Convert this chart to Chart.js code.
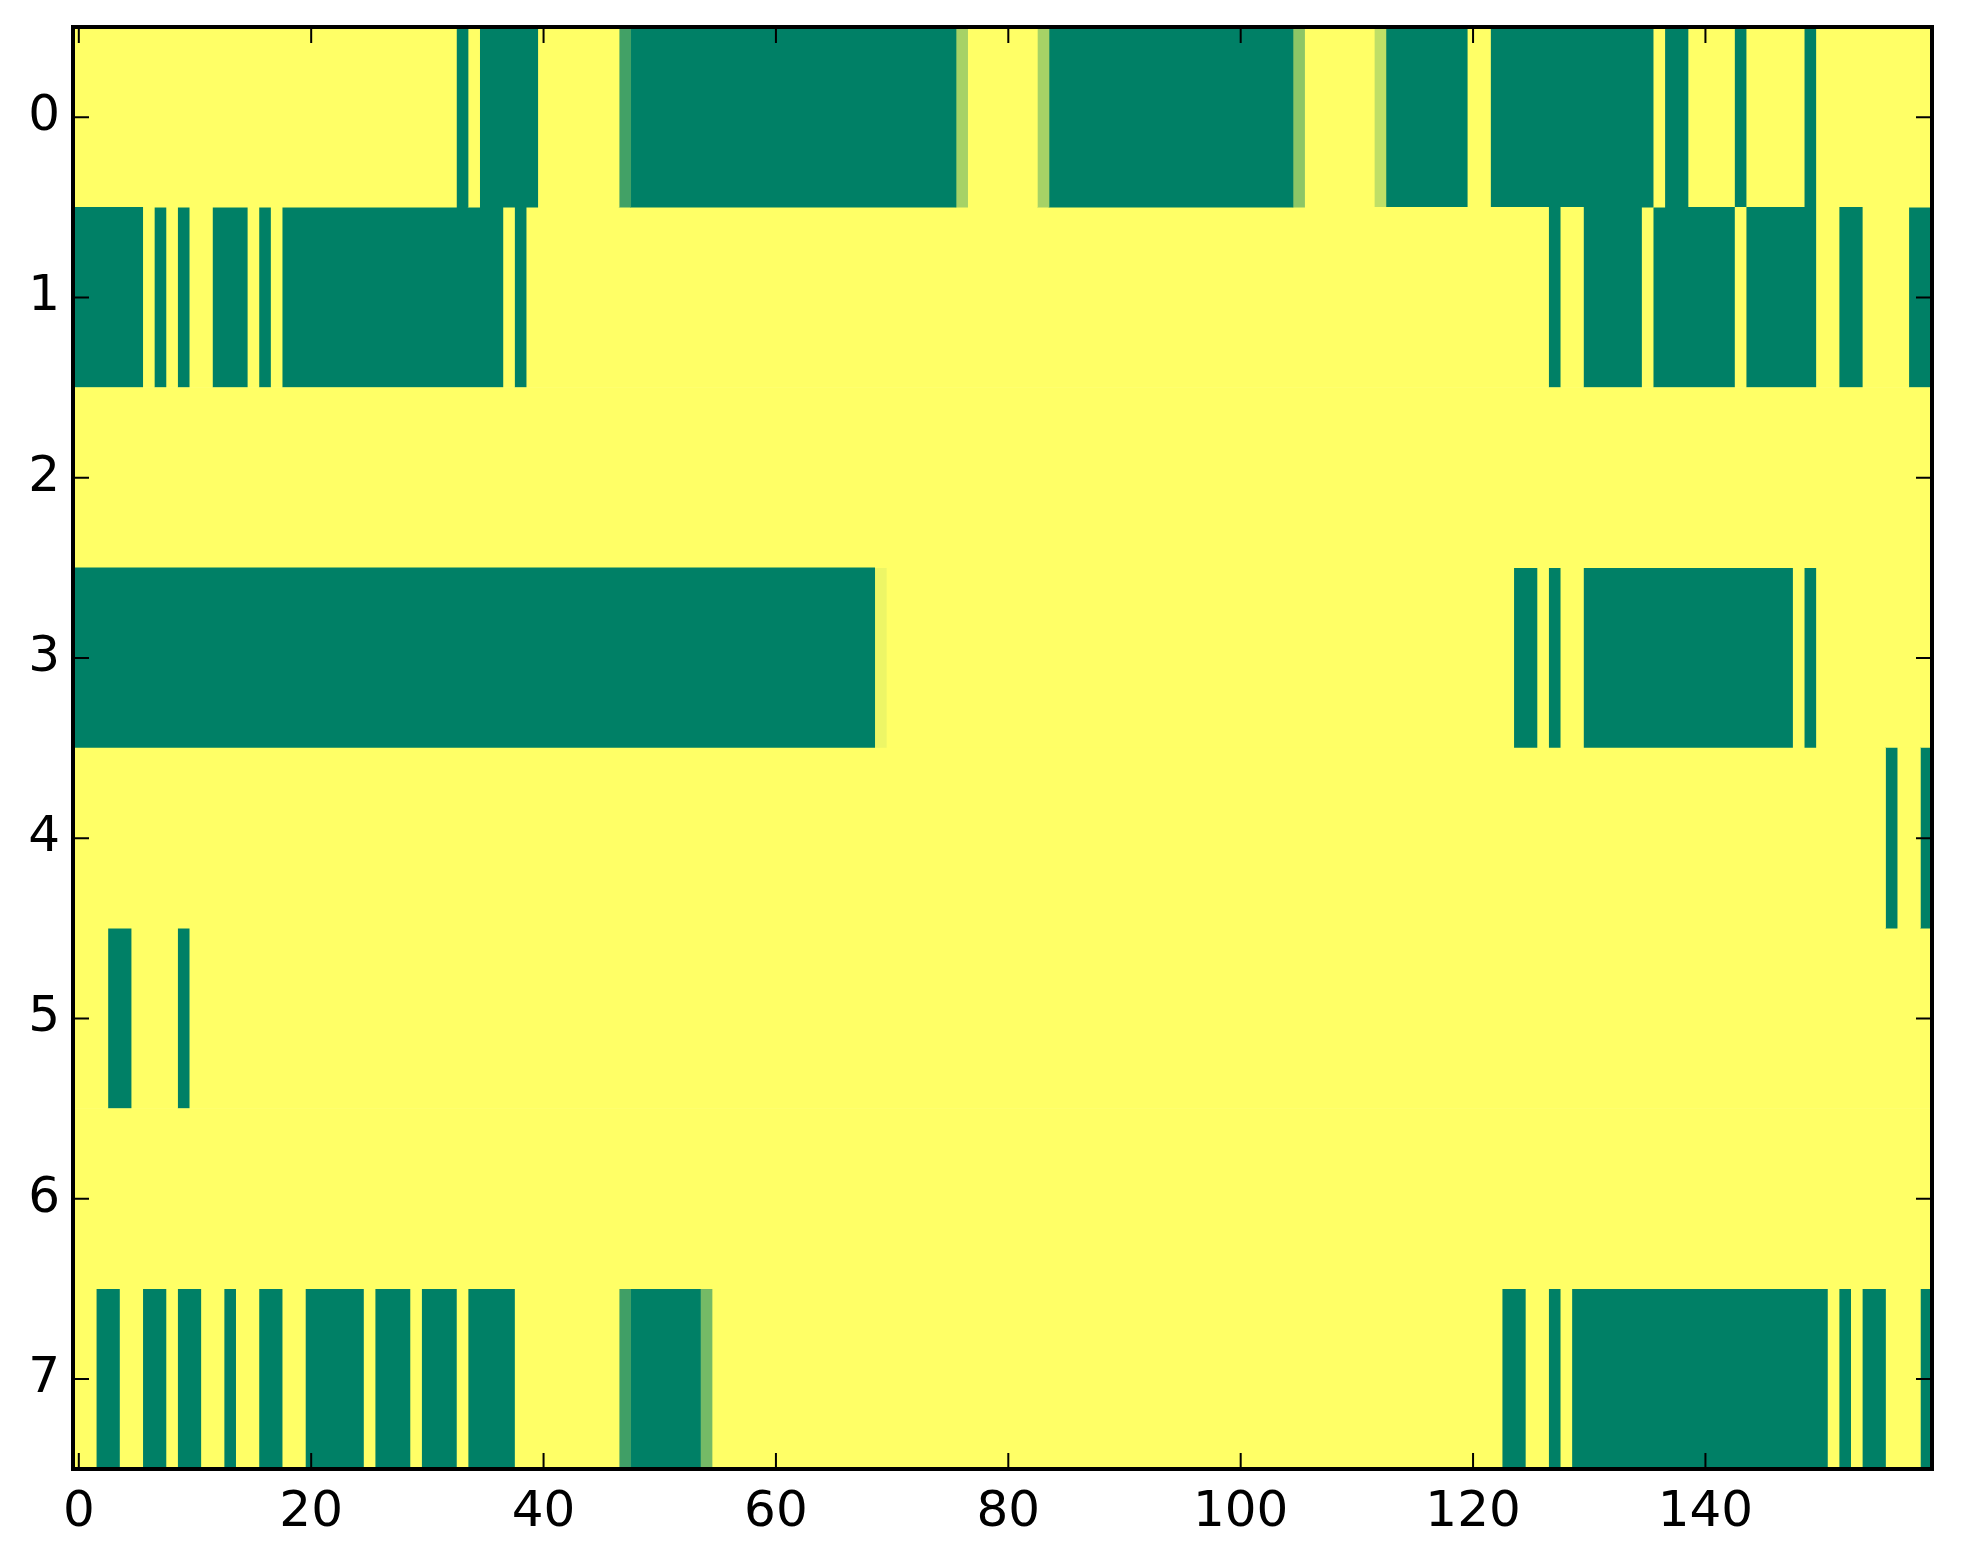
<!DOCTYPE html>
<html>
<head>
<meta charset="utf-8">
<title>Heatmap</title>
<script src="https://cdn.jsdelivr.net/npm/chart.js@4.4.1/dist/chart.umd.min.js"></script>
<style>
  html, body { margin: 0; padding: 0; background: #fff; }
  canvas { display: block; }
</style>
</head>
<body>
<canvas id="heatmap" width="1963" height="1564"></canvas>
<script>
// Cell values per row (1 = yellow, 0 = green, fractions in between)
const row0 = [
  1,1,1,1,1,1,1,1,1,1,1,1,1,1,1,1,1,1,1,1,
  1,1,1,1,1,1,1,1,1,1,1,1,1,0,1,0,0,0,0,0,
  1,1,1,1,1,1,1,0.26,0,0,0,0,0,0,0,0,0,0,0,0,
  0,0,0,0,0,0,0,0,0,0,0,0,0,0,0,0,0.65,1,1,1,
  1,1,1,0.65,0,0,0,0,0,0,0,0,0,0,0,0,0,0,0,0,
  0,0,0,0,0,0.55,1,1,1,1,1,1,0.75,0,0,0,0,0,0,0,
  1,1,0,0,0,0,0,0,0,0,0,0,0,0,0,0,1,0,0,1,
  1,1,1,0,1,1,1,1,1,0,1,1,1,1,1,1,1,1,1,1
];
const row1 = [
  0,0,0,0,0,0,1,0,1,0,1,1,0,0,0,1,0,1,0,0,
  0,0,0,0,0,0,0,0,0,0,0,0,0,0,0,0,0,1,0,1,
  1,1,1,1,1,1,1,1,1,1,1,1,1,1,1,1,1,1,1,1,
  1,1,1,1,1,1,1,1,1,1,1,1,1,1,1,1,1,1,1,1,
  1,1,1,1,1,1,1,1,1,1,1,1,1,1,1,1,1,1,1,1,
  1,1,1,1,1,1,1,1,1,1,1,1,1,1,1,1,1,1,1,1,
  1,1,1,1,1,1,1,0,1,1,0,0,0,0,0,1,0,0,0,0,
  0,0,0,1,0,0,0,0,0,0,1,1,0,0,1,1,1,1,0,0
];
const row2 = [
  1,1,1,1,1,1,1,1,1,1,1,1,1,1,1,1,1,1,1,1,
  1,1,1,1,1,1,1,1,1,1,1,1,1,1,1,1,1,1,1,1,
  1,1,1,1,1,1,1,1,1,1,1,1,1,1,1,1,1,1,1,1,
  1,1,1,1,1,1,1,1,1,1,1,1,1,1,1,1,1,1,1,1,
  1,1,1,1,1,1,1,1,1,1,1,1,1,1,1,1,1,1,1,1,
  1,1,1,1,1,1,1,1,1,1,1,1,1,1,1,1,1,1,1,1,
  1,1,1,1,1,1,1,1,1,1,1,1,1,1,1,1,1,1,1,1,
  1,1,1,1,1,1,1,1,1,1,1,1,1,1,1,1,1,1,1,1
];
const row3 = [
  0,0,0,0,0,0,0,0,0,0,0,0,0,0,0,0,0,0,0,0,
  0,0,0,0,0,0,0,0,0,0,0,0,0,0,0,0,0,0,0,0,
  0,0,0,0,0,0,0,0,0,0,0,0,0,0,0,0,0,0,0,0,
  0,0,0,0,0,0,0,0,0,0.93,1,1,1,1,1,1,1,1,1,1,
  1,1,1,1,1,1,1,1,1,1,1,1,1,1,1,1,1,1,1,1,
  1,1,1,1,1,1,1,1,1,1,1,1,1,1,1,1,1,1,1,1,
  1,1,1,1,0,0,1,0,1,1,0,0,0,0,0,0,0,0,0,0,
  0,0,0,0,0,0,0,0,1,0,1,1,1,1,1,1,1,1,1,1
];
const row4 = [
  1,1,1,1,1,1,1,1,1,1,1,1,1,1,1,1,1,1,1,1,
  1,1,1,1,1,1,1,1,1,1,1,1,1,1,1,1,1,1,1,1,
  1,1,1,1,1,1,1,1,1,1,1,1,1,1,1,1,1,1,1,1,
  1,1,1,1,1,1,1,1,1,1,1,1,1,1,1,1,1,1,1,1,
  1,1,1,1,1,1,1,1,1,1,1,1,1,1,1,1,1,1,1,1,
  1,1,1,1,1,1,1,1,1,1,1,1,1,1,1,1,1,1,1,1,
  1,1,1,1,1,1,1,1,1,1,1,1,1,1,1,1,1,1,1,1,
  1,1,1,1,1,1,1,1,1,1,1,1,1,1,1,1,0,1,1,0
];
const row5 = [
  1,1,1,0,0,1,1,1,1,0,1,1,1,1,1,1,1,1,1,1,
  1,1,1,1,1,1,1,1,1,1,1,1,1,1,1,1,1,1,1,1,
  1,1,1,1,1,1,1,1,1,1,1,1,1,1,1,1,1,1,1,1,
  1,1,1,1,1,1,1,1,1,1,1,1,1,1,1,1,1,1,1,1,
  1,1,1,1,1,1,1,1,1,1,1,1,1,1,1,1,1,1,1,1,
  1,1,1,1,1,1,1,1,1,1,1,1,1,1,1,1,1,1,1,1,
  1,1,1,1,1,1,1,1,1,1,1,1,1,1,1,1,1,1,1,1,
  1,1,1,1,1,1,1,1,1,1,1,1,1,1,1,1,1,1,1,1
];
const row6 = [
  1,1,1,1,1,1,1,1,1,1,1,1,1,1,1,1,1,1,1,1,
  1,1,1,1,1,1,1,1,1,1,1,1,1,1,1,1,1,1,1,1,
  1,1,1,1,1,1,1,1,1,1,1,1,1,1,1,1,1,1,1,1,
  1,1,1,1,1,1,1,1,1,1,1,1,1,1,1,1,1,1,1,1,
  1,1,1,1,1,1,1,1,1,1,1,1,1,1,1,1,1,1,1,1,
  1,1,1,1,1,1,1,1,1,1,1,1,1,1,1,1,1,1,1,1,
  1,1,1,1,1,1,1,1,1,1,1,1,1,1,1,1,1,1,1,1,
  1,1,1,1,1,1,1,1,1,1,1,1,1,1,1,1,1,1,1,1
];
const row7 = [
  1,1,0,0,1,1,0,0,1,0,0,1,1,0,1,1,0,0,1,1,
  0,0,0,0,0,1,0,0,0,1,0,0,0,1,0,0,0,0,1,1,
  1,1,1,1,1,1,1,0.25,0,0,0,0,0,0,0.46,1,1,1,1,1,
  1,1,1,1,1,1,1,1,1,1,1,1,1,1,1,1,1,1,1,1,
  1,1,1,1,1,1,1,1,1,1,1,1,1,1,1,1,1,1,1,1,
  1,1,1,1,1,1,1,1,1,1,1,1,1,1,1,1,1,1,1,1,
  1,1,1,0,0,1,1,0,1,0,0,0,0,0,0,0,0,0,0,0,
  0,0,0,0,0,0,0,0,0,0,0,1,0,1,0,0,1,1,1,0
];
const rows = [row0, row1, row2, row3, row4, row5, row6, row7];

// Tick labels
const rowTicks = [0, 1, 2, 3, 4, 5, 6, 7];
const colTicks = [0, 20, 40, 60, 80, 100, 120, 140];

// matplotlib "summer" colormap
function summer(v) {
  const r = Math.round(255 * v);
  const g = Math.round(255 * (0.5 + 0.5 * v));
  return `rgb(${r},${g},102)`;
}

// Merge consecutive equal cells of a row into floating bars
function toRuns(values, rowIndex) {
  const runs = [];
  let start = 0;
  for (let i = 1; i <= values.length; i++) {
    if (i === values.length || values[i] !== values[start]) {
      runs.push({ x: [start - 0.5, i - 0.5], y: rowIndex, v: values[start] });
      start = i;
    }
  }
  return runs;
}

const runsByRow = rows.map((vals, r) => toRuns(vals, r));
const maxRuns = Math.max(...runsByRow.map((runs) => runs.length));

const datasets = [];
for (let k = 0; k < maxRuns; k++) {
  const data = [];
  runsByRow.forEach((runs) => {
    if (runs[k]) data.push(runs[k]);
  });
  datasets.push({
    data,
    backgroundColor: (ctx) => (ctx.raw ? summer(ctx.raw.v) : "#000"),
    borderWidth: 0,
    grouped: false,
    categoryPercentage: 1,
    barPercentage: 1,
  });
}

// Frame and inward ticks on all four sides
const framePlugin = {
  id: "frame",
  afterDatasetsDraw(chart) {
    const { ctx, chartArea: a, scales } = chart;
    ctx.save();
    ctx.strokeStyle = "#000";
    ctx.lineWidth = 2;
    ctx.beginPath();
    colTicks.forEach((v) => {
      const px = scales.x.getPixelForValue(v);
      ctx.moveTo(px, a.bottom);
      ctx.lineTo(px, a.bottom - 16);
      ctx.moveTo(px, a.top);
      ctx.lineTo(px, a.top + 16);
    });
    rowTicks.forEach((v) => {
      const py = scales.y.getPixelForValue(v);
      ctx.moveTo(a.left, py);
      ctx.lineTo(a.left + 16, py);
      ctx.moveTo(a.right, py);
      ctx.lineTo(a.right - 16, py);
    });
    ctx.stroke();
    ctx.lineWidth = 4;
    ctx.strokeRect(a.left, a.top, a.right - a.left, a.bottom - a.top);
    ctx.restore();
  },
};

const tickFont = { family: "DejaVu Sans", size: 50 };

new Chart(document.getElementById("heatmap"), {
  type: "bar",
  data: { datasets },
  plugins: [framePlugin],
  options: {
    indexAxis: "y",
    responsive: false,
    devicePixelRatio: 1,
    animation: false,
    layout: { padding: { top: 27, right: 31, left: 0, bottom: 0 } },
    plugins: { legend: { display: false }, tooltip: { enabled: false } },
    scales: {
      x: {
        type: "linear",
        position: "bottom",
        min: -0.5,
        max: 159.5,
        offset: false,
        grid: { display: false, drawTicks: false },
        border: { display: false },
        ticks: { font: tickFont, color: "#000", padding: 14, maxRotation: 0, autoSkip: false },
        afterBuildTicks: (s) => { s.ticks = colTicks.map((v) => ({ value: v })); },
        afterFit: (s) => {
          s.height = 95;
          s.paddingLeft = 0;
          s.paddingRight = 0;
        },
      },
      y: {
        type: "linear",
        reverse: true,
        min: -0.5,
        max: 7.5,
        offset: false,
        grid: { display: false, drawTicks: false },
        border: { display: false },
        ticks: { font: tickFont, color: "#000", padding: 13, autoSkip: false },
        afterBuildTicks: (s) => { s.ticks = rowTicks.map((v) => ({ value: v })); },
        afterFit: (s) => {
          s.width = 73;
          s.paddingTop = 0;
          s.paddingBottom = 0;
        },
      },
    },
  },
});
</script>
</body>
</html>
